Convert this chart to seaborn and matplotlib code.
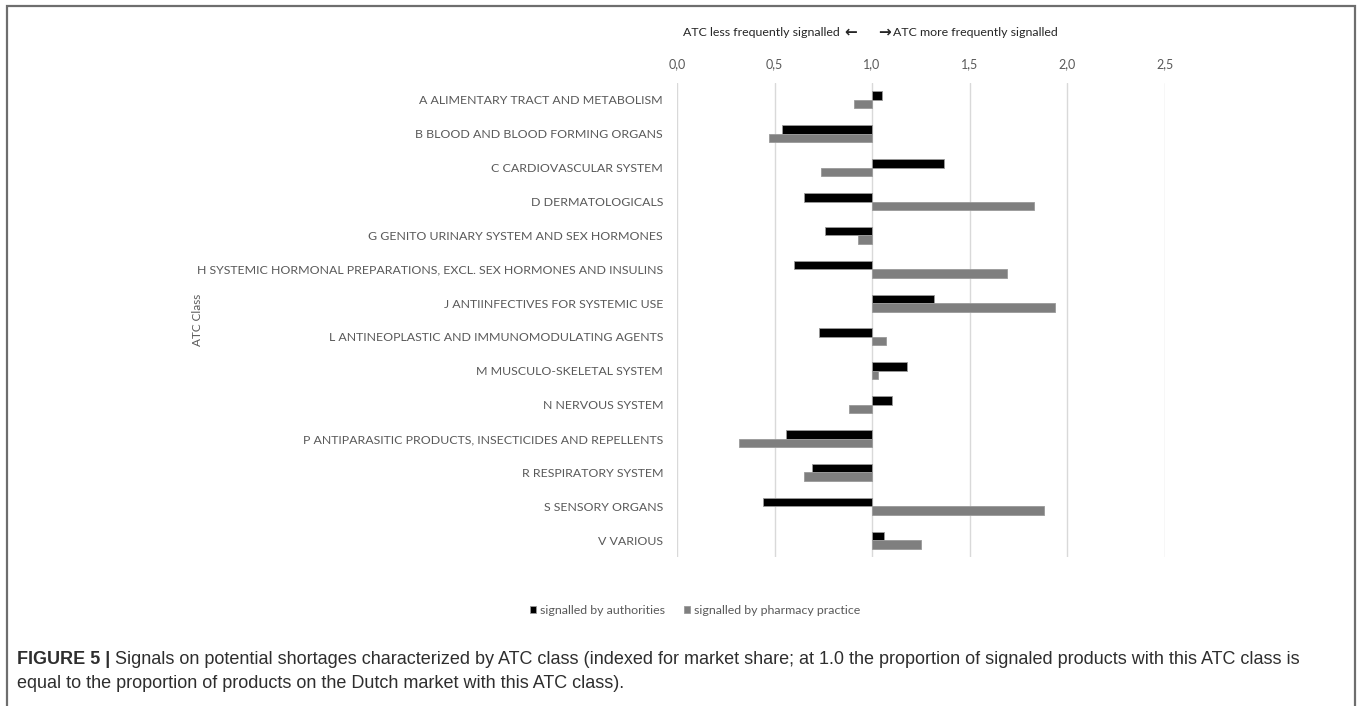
# atc_class_signals.py

import matplotlib
matplotlib.use('Agg')
import pandas as pd
import matplotlib.pyplot as plt
import seaborn as sns
from matplotlib.patches import Rectangle

# ATC classes, top to bottom
categories = [
    'A ALIMENTARY TRACT AND METABOLISM',
    'B BLOOD AND BLOOD FORMING ORGANS',
    'C CARDIOVASCULAR SYSTEM',
    'D DERMATOLOGICALS',
    'G GENITO URINARY SYSTEM AND SEX HORMONES',
    'H SYSTEMIC HORMONAL PREPARATIONS, EXCL. SEX HORMONES AND INSULINS',
    'J ANTIINFECTIVES FOR SYSTEMIC USE',
    'L ANTINEOPLASTIC AND IMMUNOMODULATING AGENTS',
    'M MUSCULO-SKELETAL SYSTEM',
    'N NERVOUS SYSTEM',
    'P ANTIPARASITIC PRODUCTS, INSECTICIDES AND REPELLENTS',
    'R RESPIRATORY SYSTEM',
    'S SENSORY ORGANS',
    'V VARIOUS',
]

# index for market share (1.0 = same share as on the market)
authorities = [1.05, 0.54, 1.37, 0.65, 0.76, 0.60, 1.32, 0.73, 1.18, 1.10, 0.56, 0.69, 0.44, 1.06]
pharmacy = [0.91, 0.47, 0.74, 1.83, 0.93, 1.69, 1.94, 1.07, 1.03, 0.88, 0.32, 0.65, 1.88, 1.25]

series_names = ['signalled by authorities', 'signalled by pharmacy practice']
x_ticks = [0.0, 0.5, 1.0, 1.5, 2.0, 2.5]

BASE = 1.0  # bars start at the 1.0 line
GREY_TEXT = '#595959'
W, H = 1360, 706


def build_frame():
    """Long table for seaborn, bars measured from the 1.0 baseline."""
    df = pd.DataFrame({
        'ATC Class': categories + categories,
        'series': [series_names[0]] * len(categories) + [series_names[1]] * len(categories),
        'index': authorities + pharmacy,
    })
    df['offset'] = df['index'] - BASE
    return df


def plot_chart(df):
    sns.set_theme(style='white')
    plt.rcParams['font.family'] = ['Lato', 'DejaVu Sans']

    fig = plt.figure(figsize=(W / 100, H / 100), dpi=100)
    ax = fig.add_axes([0.4978, 0.2110, 0.3585, 0.6714])

    sns.barplot(data=df, x='offset', y='ATC Class', hue='series',
                palette=['#000000', '#7f7f7f'], saturation=1, width=0.5,
                edgecolor='#9a9a9a', linewidth=0.6, ax=ax)

    ax.set_xlim(x_ticks[0] - BASE, x_ticks[-1] - BASE)
    ax.set_xticks([t - BASE for t in x_ticks])
    ax.set_xticklabels([f'{t:.1f}'.replace('.', ',') for t in x_ticks])
    ax.xaxis.tick_top()
    ax.tick_params(axis='x', length=0, pad=9, colors=GREY_TEXT, labelsize=9)
    ax.tick_params(axis='y', length=0, pad=10, colors=GREY_TEXT, labelsize=8.9)
    ax.xaxis.grid(True, color='#d9d9d9', linewidth=1)
    ax.yaxis.grid(False)
    ax.set_axisbelow(True)
    for side in ax.spines.values():
        side.set_visible(False)

    ax.set_xlabel('')
    ax.set_ylabel('ATC Class', color=GREY_TEXT, fontsize=8.5)
    ax.yaxis.set_label_coords((203 - 677) / 487.5, 0.5)

    ax.legend(loc='center', bbox_to_anchor=(695 / W, 1 - 610 / H), bbox_transform=fig.transFigure,
              ncol=2, frameon=False, handlelength=0.5, handleheight=0.5,
              handletextpad=0.3, columnspacing=1.5, fontsize=8.9, labelcolor=GREY_TEXT)

    # direction hints above the axis
    hint_y = 1 - 32 / H
    fig.text(840 / W, hint_y, 'ATC less frequently signalled',
             ha='right', va='center', fontsize=8.9, color='#262626')
    fig.text(857 / W, hint_y, '\u2190', ha='right', va='center', fontsize=11,
             fontweight='bold', family='DejaVu Sans', color='#262626')
    fig.text(878 / W, hint_y, '\u2192', ha='left', va='center', fontsize=11,
             fontweight='bold', family='DejaVu Sans', color='#262626')
    fig.text(893 / W, hint_y, 'ATC more frequently signalled',
             ha='left', va='center', fontsize=8.9, color='#262626')

    # caption
    cap_font = 'Liberation Sans'
    cap_size = 13
    cap_color = '#2e2e2e'
    y1 = 1 - 660 / H
    y2 = 1 - 683 / H
    bold = fig.text(17 / W, y1, 'FIGURE 5 |', ha='left', va='center',
                    fontsize=cap_size, fontweight='bold', family=cap_font, color=cap_color)
    renderer = fig.canvas.get_renderer()
    bb = bold.get_window_extent(renderer)
    fig.text((bb.x1 + 5) / W, y1,
             'Signals on potential shortages characterized by ATC class (indexed for market share; '
             'at 1.0 the proportion of signaled products with this ATC class is',
             ha='left', va='center', fontsize=cap_size, family=cap_font, color=cap_color)
    fig.text(17 / W, y2,
             'equal to the proportion of products on the Dutch market with this ATC class).',
             ha='left', va='center', fontsize=cap_size, family=cap_font, color=cap_color)

    # outer frame
    fig.patches.append(Rectangle((7 / W, -0.05), (1355 - 7) / W, 1.05 - 6 / H,
                                 transform=fig.transFigure, fill=False,
                                 edgecolor='#6e6e6e', linewidth=1.6))

    fig.savefig('out.png', dpi=100)


def main():
    df = build_frame()
    plot_chart(df)


if __name__ == "__main__":
    main()
